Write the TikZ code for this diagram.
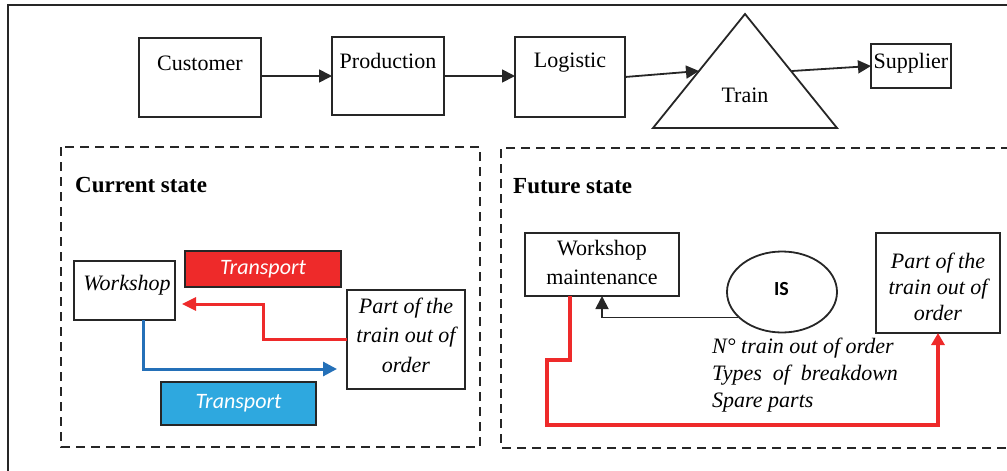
\documentclass[tikz,border=0pt]{standalone}
\usepackage{fontspec}
\setmainfont{Liberation Serif}
\newfontfamily\calib{Carlito}
\usetikzlibrary{arrows.meta,shapes.geometric}
\definecolor{myred}{HTML}{EE2A2A}
\definecolor{myblue}{HTML}{2EA8DF}
\definecolor{arrblue}{HTML}{2470B8}
\definecolor{edge}{HTML}{262626}
\begin{document}
\begin{tikzpicture}[x=1pt,y=-1pt,
  box/.style={draw=edge, line width=1.8pt, inner sep=0pt, outer sep=0pt},
  txt/.style={font=\fontsize{22}{26}\selectfont, inner sep=0pt, anchor=base},
  itxt/.style={font=\fontsize{22}{26}\selectfont\itshape, inner sep=0pt, anchor=base},
  ttl/.style={font=\fontsize{23}{27}\selectfont\bfseries, inner sep=0pt, anchor=base west},
  dashbox/.style={draw=edge, line width=2pt, dash pattern=on 9pt off 6pt},
  blkarr/.style={draw=edge, line width=1.8pt, -{Triangle[length=13pt,width=13pt]}},
  redarr/.style={draw=myred, line width=3pt, -{Triangle[length=14pt,width=13pt]}},
  bluearr/.style={draw=arrblue, line width=3pt, -{Triangle[length=14pt,width=14pt]}},
  fredarr/.style={draw=myred, line width=4pt, -{Triangle[length=12pt,width=13pt]}},
  tbox/.style={draw=edge, line width=1.8pt, inner sep=0pt, text=white,
     font=\fontsize{22}{26}\selectfont\calib\itshape}
]
\useasboundingbox (0,0) rectangle (1007,471);
% outer frame
\draw[draw=edge, line width=2pt] (8,471) -- (8,5) -- (1010,5);

% top chain
\node[box, minimum width=122pt, minimum height=79pt] (cust) at (200,77.5) {};
\node[txt] (custT) at (200,70) {Customer};
\node[box, minimum width=112pt, minimum height=78pt] (prod) at (388,76) {};
\node[txt] (prodT) at (388,68) {Production};
\node[box, minimum width=110pt, minimum height=80pt] (logi) at (570,77) {};
\node[txt] (logiT) at (570,67) {Logistic};
\draw[line width=1.8pt, draw=edge, line join=miter] (745,14) -- (653,128) -- (837,128) -- cycle;
\coordinate (trainL) at (699,71);
\coordinate (trainR) at (792,71);
\node[txt] (trainT) at (745,102) {Train};
\node[box, minimum width=80pt, minimum height=44pt] (sup) at (911,66) {};
\node[txt] (supT) at (911,68) {Supplier};

\draw[blkarr] (cust.east |- prod.west) -- (prod.west);
\draw[blkarr] (prod.east) -- (prod.east -| logi.west);
\draw[blkarr] (logi.east) -- (trainL);
\draw[blkarr] (trainR) -- (sup.west);

% dashed containers
\draw[dashbox] (61,147) rectangle (480,447);
\draw[dashbox] (1010,148) -- (501,148) -- (501,448) -- (1010,448);
\node[ttl] (cur) at (75,192) {Current state};
\node[ttl] (fut) at (513,193) {Future state};

% current state
\node[box, minimum width=101pt, minimum height=59pt] (work) at (124.5,290.5) {};
\node[itxt] (workT) at (127,290) {Workshop};
\node[tbox, fill=myred, minimum width=156pt, minimum height=36pt] (tr1) at (263,269) {Transport};
\node[tbox, fill=myblue, minimum width=155pt, minimum height=43pt] (tr2) at (238.5,403.5) {Transport};
\node[box, minimum width=118pt, minimum height=99pt] (part) at (406,339.5) {};
\node[itxt, align=center, font=\fontsize{22}{29.5}\selectfont\itshape] (partT) at (406,372) {Part of the\\train out of\\order};
\coordinate (rb) at (263,304);
\draw[redarr, shorten >=7pt] (part.west) -| (rb) -- (rb -| work.east);
\draw[bluearr, shorten >=10pt] ([xshift=18.5pt]work.south) |- ([yshift=-29.5pt]part.west);

% future state
\node[box, minimum width=154pt, minimum height=63pt] (wm) at (602,264.5) {};
\node[txt, align=center, font=\fontsize{22}{29}\selectfont] (wmT) at (602,284) {Workshop\\maintenance};
\node[draw=edge, line width=1.8pt, ellipse, minimum width=110pt, minimum height=81pt, inner sep=0pt] (is) at (782,292) {};
\node[inner sep=0pt, anchor=base, font=\fontsize{20}{22}\selectfont\calib\bfseries] (isT) at (781.5,295) {IS};
\node[box, minimum width=124pt, minimum height=100pt] (fpart) at (938,283) {};
\node[itxt, align=center, font=\fontsize{22}{26}\selectfont\itshape] (fpartT) at (938,320) {Part of the\\train out of\\order};
\draw[blkarr] (is.210) -| (wm.south);
\draw[fredarr] ([xshift=-32pt]wm.south) -- ++(0,64) -- ++(-23,0) -- ++(0,65) -| (fpart.south);
\node[inner sep=0pt, anchor=base west, align=left, font=\fontsize{22}{27}\selectfont\itshape] (info) at (712,407) {N° train out of order\\Types\ \ of\ \ breakdown\\Spare parts};
\end{tikzpicture}
\end{document}
